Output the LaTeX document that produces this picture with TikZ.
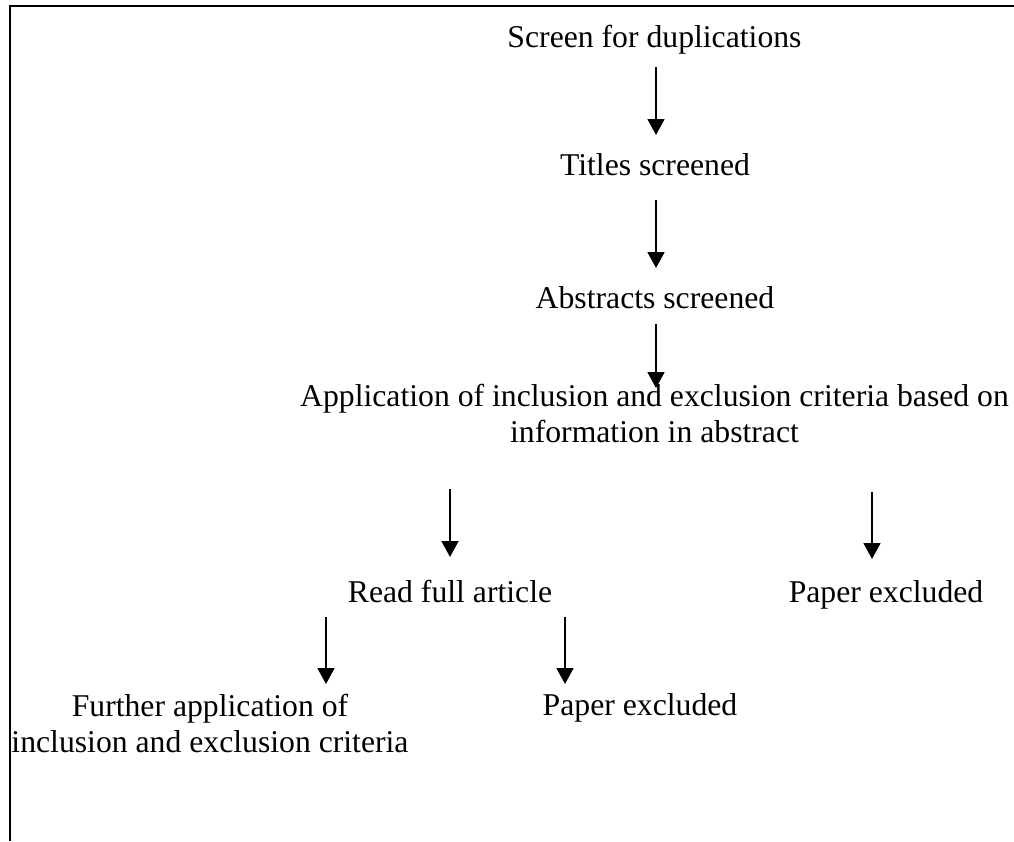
\documentclass[tikz,border=0pt]{standalone}
\usepackage{fontspec}
\setmainfont{Liberation Serif}
\usetikzlibrary{arrows.meta}
\begin{document}
\begin{tikzpicture}[x=1pt,y=-1pt,
  lbl/.style={anchor=base,inner sep=0pt,align=center,
    font=\fontsize{31.7pt}{36pt}\selectfont},
  flow/.style={line width=1.8pt,-{Triangle[width=17pt,length=16pt]}},
  frame/.style={line width=2pt}]
\useasboundingbox (0,0) rectangle (1014,841);
% frame edges
\draw[frame] (10.3,841) -- (10.3,6.3) -- (1014,6.3);
% labels (base anchor of a two-line label is the baseline of its last line)
\node[lbl] (dup) at (654.5,47) {Screen for duplications};
\node[lbl] (tit) at (655,175) {Titles screened};
\node[lbl] (abs) at (655,308) {Abstracts screened};
\node[lbl] (crit) at (654.5,442) {Application of inclusion and exclusion criteria based on\\information in abstract};
\node[lbl] (full) at (450,602) {Read full article};
\node[lbl] (ex1) at (886,602) {Paper excluded};
\node[lbl] (ex2) at (640,715) {Paper excluded};
\node[lbl] (fur) at (210,752) {Further application of\\inclusion and exclusion criteria};
% arrow ends
\coordinate (a1) at (656,67);  \coordinate (b1) at (656,135);
\coordinate (a2) at (656,200); \coordinate (b2) at (656,268);
\coordinate (a3) at (656,324); \coordinate (b3) at (656,388);
\coordinate (a4) at (450,489); \coordinate (b4) at (450,557);
\coordinate (a5) at (872,492); \coordinate (b5) at (872,559);
\coordinate (a6) at (326,617); \coordinate (b6) at (326,684);
\coordinate (a7) at (565,617); \coordinate (b7) at (565,684);
\foreach \i in {1,...,7} \draw[flow] (a\i) -- (b\i);
\end{tikzpicture}
\end{document}
